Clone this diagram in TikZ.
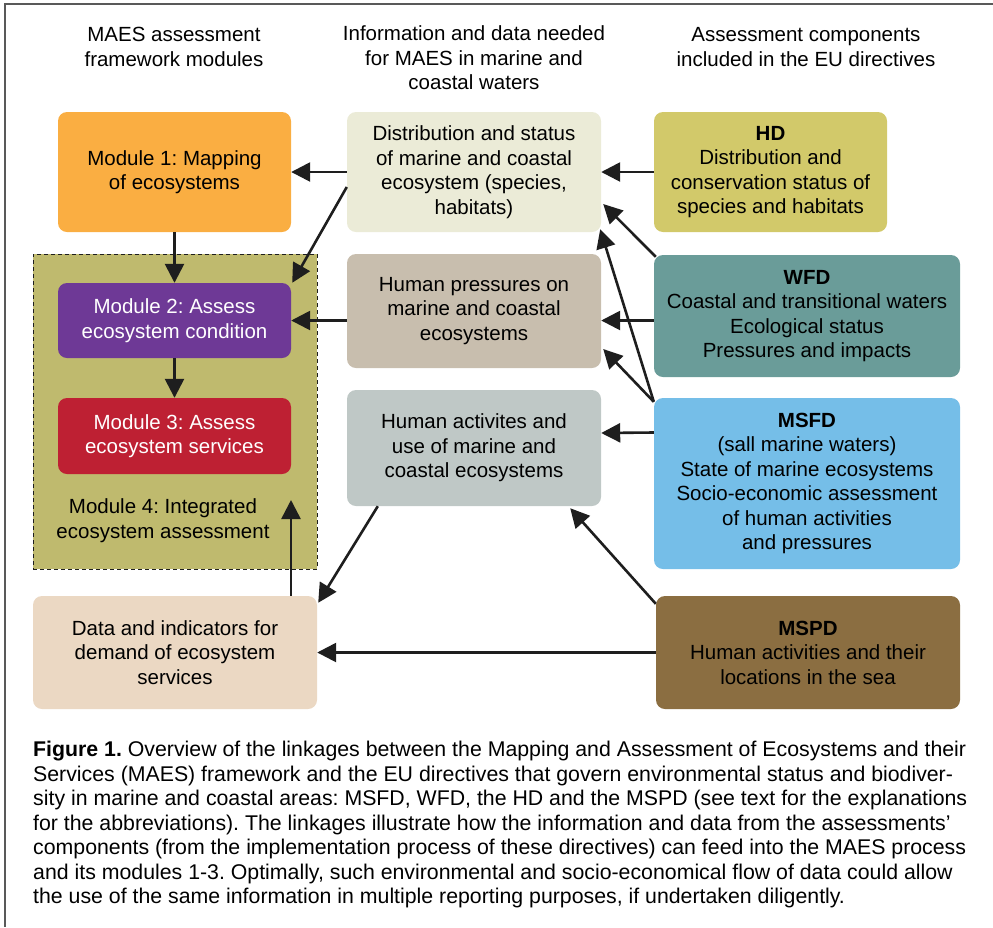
\documentclass[tikz,border=0pt]{standalone}
\usepackage{fontspec}
\setmainfont{Liberation Sans}
\usetikzlibrary{arrows.meta,positioning,backgrounds}
\definecolor{maporange}{RGB}{250,174,66}
\definecolor{olive4}{RGB}{191,186,110}
\definecolor{purple2}{RGB}{110,57,150}
\definecolor{red3}{RGB}{190,32,51}
\definecolor{beige}{RGB}{235,216,195}
\definecolor{distcol}{RGB}{235,235,215}
\definecolor{presscol}{RGB}{200,190,174}
\definecolor{actcol}{RGB}{191,200,198}
\definecolor{hdcol}{RGB}{210,201,106}
\definecolor{wfdcol}{RGB}{106,156,153}
\definecolor{msfdcol}{RGB}{117,190,232}
\definecolor{mspdcol}{RGB}{139,110,65}
\definecolor{ink}{RGB}{30,30,30}
\tikzset{
  modbox/.style={rounded corners=9pt, align=center, inner sep=0pt,
    minimum width=233pt},
  infobox/.style={rounded corners=9pt, align=center, inner sep=0pt,
    minimum width=254pt},
  dirbox/.style={rounded corners=9pt, align=center, inner sep=0pt},
  framebox/.style={draw=ink, dashed, dash pattern=on 4pt off 3pt, line width=0.9pt},
  flow/.style={-{Triangle[length=19pt,width=19pt]}, line width=2.6pt, draw=ink}
}

\begin{document}
\frenchspacing
\begin{tikzpicture}[x=1pt, y=-1pt,
    font=\fontsize{20.5}{24.5}\selectfont,
    header/.style={align=center, inner sep=0pt}
]
\useasboundingbox (0,0) rectangle (993,927);
\draw[line width=1.3pt, black!65] (993,4) -- (5,4) -- (5,927);

% column headers
\node[header] (hdrmaes) at (174,47) {MAES assessment\\framework modules};
\node[header] (hdrinfo) at (474,58) {Information and data needed\\for MAES in marine and\\coastal waters};
\node[header] (hdrdir) at (806,47) {Assessment components\\included in the EU directives};

% MAES modules
\node[framebox, fill=olive4, minimum width=284pt, minimum height=315pt] (m4) at (175,411.5) {};
\node[header] (m4txt) at (163,520.5) {Module 4: Integrated\\ecosystem assessment};
\node[modbox, fill=maporange, minimum height=120pt] (m1) at (174.5,172) {Module 1: Mapping\\of ecosystems};
\node[modbox, fill=purple2, text=white, minimum height=75pt] (m2) at (174.5,320.5) {Module 2: Assess\\ecosystem condition};
\node[modbox, fill=red3, text=white, minimum height=76pt] (m3) at (174.5,436) {Module 3: Assess\\ecosystem services};
\node[dirbox, fill=beige, minimum width=284pt, minimum height=113pt] (data) at (175,652.5) {Data and indicators for\\demand of ecosystem\\services};
\coordinate (m4in) at (291,500);

% information and data
\node[infobox, fill=distcol, minimum height=120pt] (dist) at (474,172) {Distribution and status\\of marine and coastal\\ecosystem (species,\\habitats)};
\node[infobox, fill=presscol, minimum height=114pt] (press) at (474,311) {Human pressures on\\marine and coastal\\ecosystems};
\node[infobox, fill=actcol, minimum height=116pt] (act) at (474,448) {Human activites and\\use of marine and\\coastal ecosystems};

% EU directives
\node[dirbox, fill=hdcol, minimum width=233pt, minimum height=120pt] (hd) at (770.5,172) {\textbf{HD}\\Distribution and\\conservation status of\\species and habitats};
\node[dirbox, fill=wfdcol, minimum width=306pt, minimum height=122pt] (wfd) at (807,316) {\textbf{WFD}\\Coastal and transitional waters\\Ecological status\\Pressures and impacts};
\node[dirbox, fill=msfdcol, minimum width=306pt, minimum height=171pt] (msfd) at (807,483.5) {\textbf{MSFD}\\(sall marine waters)\\State of marine ecosystems\\Socio-economic assessment\\of human activities\\and pressures};
\node[dirbox, fill=mspdcol, minimum width=304pt, minimum height=113pt] (mspd) at (808,652.5) {\textbf{MSPD}\\Human activities and their\\locations in the sea};

% links
\draw[flow] (dist.west) -- (m1.east);
\draw[flow] ([yshift=-15pt]dist.west) -- ([xshift=1pt]m2.north east);
\draw[flow] (m1.south) -- (m2.north);
\draw[flow] (m2.south) -- (m3.north);
\draw[flow] (press.west |- m2) -- (m2.east);
\draw[flow] (data.north -| m4in) -- (m4in);
\draw[flow] (hd.west) -- (dist.east);
\draw[flow] ([xshift=2pt,yshift=-2pt]wfd.north west) -- ([xshift=2pt,yshift=-32pt]dist.east);
\draw[flow] (wfd.west |- m2) -- (press.east |- m2);
\draw[flow] ([yshift=-4pt]msfd.north west) -- ([xshift=-1pt,yshift=3pt]dist.south east);
\draw[flow] ([yshift=-4pt]msfd.north west) -- ([xshift=2pt,yshift=-38pt]press.east);
\draw[flow] ([yshift=51pt]msfd.west) -- ([yshift=15pt]act.east);
\draw[flow] ([xshift=31pt]act.south west) -- ([xshift=1pt,yshift=-7pt]data.north east);
\draw[flow] ([yshift=-8pt]mspd.north west) -- ([xshift=-31pt,yshift=-2pt]act.south east);
\draw[flow] (mspd.west) -- (data.east);

% caption
\node[anchor=north west, inner sep=0pt, align=left, font=\fontsize{21.3}{24.5}\selectfont] (caption) at (33,741)
  {\textbf{Figure 1.} Overview of the linkages between the Mapping and Assessment of Ecosystems and their\\
   Services (MAES) framework and the EU directives that govern environmental status and biodiver-\\
   sity in marine and coastal areas: MSFD, WFD, the HD and the MSPD (see text for the explanations\\
   for the abbreviations). The linkages illustrate how the information and data from the assessments'\\
   components (from the implementation process of these directives) can feed into the MAES process\\
   and its modules 1-3. Optimally, such environmental and socio-economical flow of data could allow\\
   the use of the same information in multiple reporting purposes, if undertaken diligently.};
\end{tikzpicture}
\end{document}
